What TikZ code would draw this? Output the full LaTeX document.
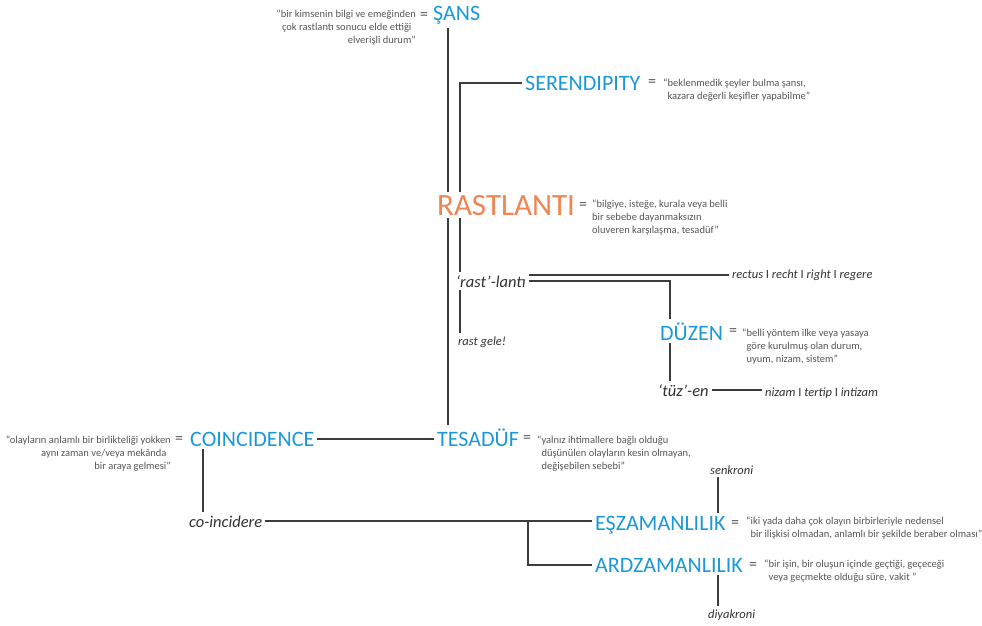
\documentclass[tikz,border=0pt]{standalone}
\usepackage{fontspec}
\setmainfont{Carlito}
\definecolor{termblue}{RGB}{27,152,215}
\definecolor{keyorange}{RGB}{240,133,84}
\definecolor{deftext}{RGB}{85,85,85}
\definecolor{roottext}{RGB}{50,50,50}
\definecolor{linegray}{RGB}{60,60,60}

\begin{document}
\begin{tikzpicture}[x=1pt,y=-1pt,
        term/.style = {text=termblue, font=\fontsize{22}{26}\selectfont, inner sep=3pt, anchor=base west},
        key/.style = {term, text=keyorange, font=\fontsize{31}{36}\selectfont},
        eq/.style = {text=deftext, font=\fontsize{16}{18}\selectfont, inner sep=0pt},
        def/.style = {text=deftext, font=\fontsize{10.5}{13}\selectfont, align=left, inner sep=0pt, anchor=north west},
        defr/.style = {def, align=right, anchor=north east},
        root/.style = {text=roottext, font=\fontsize{16.5}{19}\selectfont\itshape, inner sep=3pt, anchor=base west},
        note/.style = {root, font=\fontsize{12.5}{15}\selectfont\itshape},
        link/.style = {draw=linegray, line width=2.2pt},
        ]
        \useasboundingbox (0,0) rectangle (982,626);
        \coordinate (ax1) at (448,0);
        \coordinate (ax2) at (460,0);
        \coordinate (ax3) at (670,0);
        \coordinate (ax4) at (203,0);
        \coordinate (ax5) at (528,0);
        \coordinate (ax6) at (718,0);

        \node[term] (sans) at (430,21) {ŞANS};
        \node[eq] (esans) at (424,16) {=};
        \node[defr] (dsans) at (416,10) {“bir kimsenin bilgi ve emeğinden\\çok rastlantı sonucu elde ettiği\hphantom{”}\\elverişli durum”};

        \node[term] (seren) at (522,90) {SERENDIPITY};
        \node[eq] (eseren) at (652,83) {=};
        \node[def] (dseren) at (663,79) {“beklenmedik şeyler bulma şansı,\\\hphantom{“}kazara değerli keşifler yapabilme”};

        \node[key] (rastl) at (434,215) {RASTLANTI};
        \node[eq] (erastl) at (583,206) {=};
        \node[def] (drastl) at (592,200) {“bilgiye, isteğe, kurala veya belli\\bir sebebe dayanmaksızın\\oluveren karşılaşma, tesadüf”};

        \node[root] (rastroot) at (453,287) {‘rast’-lantı};
        \node[note] (gele) at (455,345) {rast gele!};
        \node[note] (rectus) at (729,278) {rectus \upshape I \itshape recht \upshape I \itshape right \upshape I \itshape regere};

        \node[term] (duzen) at (657,340) {DÜZEN};
        \node[eq] (eduzen) at (733,332) {=};
        \node[def] (dduzen) at (742,329) {“belli yöntem ilke veya yasaya\\\hphantom{“}göre kurulmuş olan durum,\\\hphantom{“}uyum, nizam, sistem”};

        \node[root] (tuzroot) at (655,396) {‘tüz’-en};
        \node[note] (nizam) at (762,396) {nizam \upshape I \itshape tertip \upshape I \itshape intizam};

        \node[term] (tesaduf) at (434,446) {TESADÜF};
        \node[eq] (etesaduf) at (527,439) {=};
        \node[def] (dtesaduf) at (537,436) {“yalnız ihtimallere bağlı olduğu\\\hphantom{“}düşünülen olayların kesin olmayan,\\\hphantom{“}değişebilen sebebi”};

        \node[term] (coinc) at (187,446) {COINCIDENCE};
        \node[eq] (ecoinc) at (179,440) {=};
        \node[defr] (dcoinc) at (171,436) {“olayların anlamlı bir birlikteliği yokken\\aynı zaman ve/veya mekânda\hphantom{”}\\bir araya gelmesi”};

        \node[root] (coinroot) at (186,527) {co-incidere};

        \node[note] (senk) at (707,474) {senkroni};
        \node[term] (eszam) at (592,530) {EŞZAMANLILIK};
        \node[eq] (eeszam) at (735,524) {=};
        \node[def] (deszam) at (746,517) {“iki yada daha çok olayın birbirleriyle nedensel\\\hphantom{“}bir ilişkisi olmadan, anlamlı bir şekilde beraber olması”};

        \node[term] (ardzam) at (592,572) {ARDZAMANLILIK};
        \node[eq] (eardzam) at (753,566) {=};
        \node[def] (dardzam) at (764,560) {“bir işin, bir oluşun içinde geçtiği, geçeceği\\\hphantom{“}veya geçmekte olduğu süre, vakit ”};
        \node[note] (diya) at (705,618) {diyakroni};

        \draw[link] (sans.south -| ax1) -- (rastl.north -| ax1);
        \draw[link] (rastl.south -| ax1) -- (tesaduf.north -| ax1);
        \draw[link] (rastl.north -| ax2) |- (seren.west);
        \draw[link] (rastl.south -| ax2) -- (rastroot.north -| ax2);
        \draw[link] (rastroot.south -| ax2) -- (gele.north -| ax2);
        \draw[link] (rastroot.east |- rectus.west) -- (rectus.west);
        \draw[link] (rastroot.east) -| (duzen.north -| ax3);
        \draw[link] (duzen.south -| ax3) -- (tuzroot.north -| ax3);
        \draw[link] (tuzroot.east) -- (tuzroot.east -| nizam.west);
        \draw[link] (coinc.east) -- (coinc.east -| tesaduf.west);
        \draw[link] (coinc.south -| ax4) -- (coinroot.north -| ax4);
        \draw[link] (coinroot.east) -- (coinroot.east -| eszam.west);
        \draw[link] (coinroot.east -| ax5) |- (ardzam.west);
        \draw[link] (senk.south -| ax6) -- (eszam.north -| ax6);
        \draw[link] (ardzam.south -| ax6) -- (diya.north -| ax6);
    \end{tikzpicture}
\end{document}
